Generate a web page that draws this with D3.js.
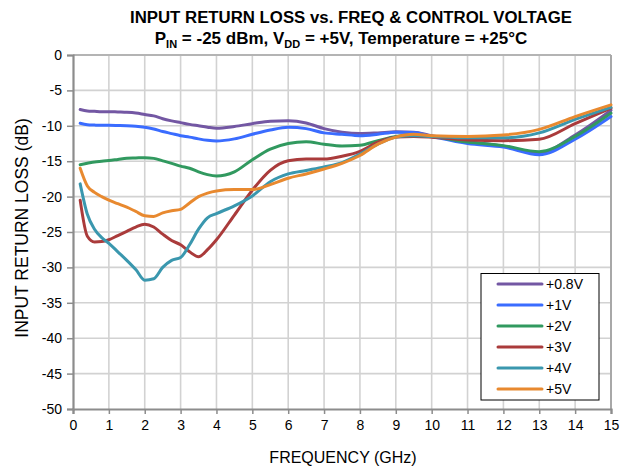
<!DOCTYPE html>
<html>
<head>
<meta charset="utf-8">
<script src="https://cdn.jsdelivr.net/npm/d3@7"></script>
<style>
  html, body { margin: 0; padding: 0; background: #fff; }
  svg { display: block; font-family: "Liberation Sans", Arial, sans-serif; }
</style>
</head>
<body>
<svg id="chart" width="621" height="470"></svg>
<script>
// Frequency points (GHz)
const freq = [0.2, 0.4, 0.6, 0.8, 1, 1.25, 1.5, 1.75, 2, 2.25, 2.5, 2.75, 3, 3.25, 3.5, 3.75, 4,
              4.5, 5, 5.5, 6, 6.5, 7, 7.5, 8, 8.5, 9, 9.5, 10, 11, 12, 13, 14, 15];

// Input return loss (dB) per control voltage
const rl08 = [-7.7, -7.9, -7.95, -8.0, -8.0, -8.05, -8.1, -8.2, -8.4, -8.6, -9.0, -9.3, -9.55, -9.8, -10.0, -10.2, -10.35,
              -10.1, -9.7, -9.35, -9.3, -9.6, -10.4, -10.9, -11.1, -11.0, -10.85, -10.9, -11.4, -12.2, -12.9, -13.8, -11.3, -7.8];
const rl1  = [-9.65, -9.85, -9.9, -9.93, -9.93, -9.95, -9.98, -10.05, -10.2, -10.45, -10.8, -11.1, -11.4, -11.6, -11.85, -12.05, -12.15,
              -11.85, -11.2, -10.6, -10.2, -10.4, -11.0, -11.2, -11.4, -11.2, -10.9, -10.95, -11.5, -12.5, -13.0, -14.1, -11.9, -8.7];
const rl2  = [-15.5, -15.3, -15.1, -15.0, -14.9, -14.75, -14.6, -14.55, -14.5, -14.6, -14.95, -15.3, -15.7, -16.0, -16.5, -16.9, -17.1,
              -16.5, -14.8, -13.3, -12.5, -12.25, -12.6, -12.85, -12.75, -12.1, -11.5, -11.3, -11.5, -12.3, -12.8, -13.65, -11.5, -8.2];
const rl3  = [-20.5, -25.6, -26.4, -26.35, -26.1, -25.5, -24.9, -24.3, -23.9, -24.3, -25.3, -26.2, -26.8, -27.8, -28.5, -27.5, -26.1,
              -22.6, -19.1, -16.3, -14.95, -14.7, -14.7, -14.3, -13.6, -12.3, -11.6, -11.5, -11.6, -12.0, -12.1, -11.9, -9.7, -7.5];
const rl4  = [-18.2, -22.5, -24.6, -25.8, -26.6, -27.8, -29.0, -30.3, -31.8, -31.6, -30.0, -29.0, -28.6, -26.8, -24.6, -23.0, -22.4,
              -21.3, -19.9, -17.9, -16.8, -16.3, -15.8, -15.2, -14.0, -12.6, -11.6, -11.4, -11.5, -11.7, -11.7, -11.0, -9.1, -7.4];
const rl5  = [-16.0, -18.5, -19.4, -20.0, -20.5, -21.0, -21.5, -22.1, -22.7, -22.8, -22.3, -22.0, -21.8, -20.9, -20.0, -19.5, -19.2,
              -19.0, -19.0, -18.3, -17.4, -16.8, -16.1, -15.3, -14.2, -12.6, -11.6, -11.2, -11.4, -11.5, -11.3, -10.5, -8.7, -7.05];

const seriesNames = ["+0.8V", "+1V", "+2V", "+3V", "+4V", "+5V"];
const seriesValues = [rl08, rl1, rl2, rl3, rl4, rl5];
const seriesColors = ["#7357a3", "#3a6cff", "#31995f", "#aa3b3b", "#3a97ae", "#e8892f"];

const xTicks = d3.range(0, 16, 1);
const yTicks = d3.range(-50, 1, 5);

const svg = d3.select("#chart");
const plotL = 73, plotR = 611, plotT = 55, plotB = 409;

const x = d3.scaleLinear().domain([0, 15]).range([plotL, plotR]);
const y = d3.scaleLinear().domain([-50, 0]).range([plotB, plotT]);

// Grid
const grid = svg.append("g");
grid.selectAll("line.v").data(xTicks.slice(1, -1)).join("line")
  .attr("x1", d => x(d)).attr("x2", d => x(d))
  .attr("y1", plotT).attr("y2", plotB)
  .attr("stroke", "#d2d2d2").attr("stroke-width", 1.6);
grid.selectAll("line.h").data(yTicks.slice(1, -1)).join("line")
  .attr("x1", plotL).attr("x2", plotR)
  .attr("y1", d => y(d)).attr("y2", d => y(d))
  .attr("stroke", "#d2d2d2").attr("stroke-width", 1.6);

// Top and right border
svg.append("line").attr("x1", plotL).attr("x2", plotR).attr("y1", plotT).attr("y2", plotT)
  .attr("stroke", "#b4b4b4").attr("stroke-width", 2);
svg.append("line").attr("x1", plotR).attr("x2", plotR).attr("y1", plotT).attr("y2", plotB)
  .attr("stroke", "#a8a8a8").attr("stroke-width", 2);

// Axes (plain hyphen for negative numbers)
const fmt = d => String(d);
const xAxis = d3.axisBottom(x).tickValues(xTicks).tickSize(5).tickPadding(6).tickFormat(fmt);
const yAxis = d3.axisLeft(y).tickValues(yTicks).tickSize(6).tickPadding(5).tickFormat(fmt);

const gx = svg.append("g").attr("transform", `translate(0,${plotB})`).call(xAxis);
const gy = svg.append("g").attr("transform", `translate(${plotL},0)`).call(yAxis);
[gx, gy].forEach(g => {
  g.select(".domain").attr("stroke", "#8c8c8c").attr("stroke-width", 2.2);
  g.selectAll(".tick line").attr("stroke", "#8c8c8c").attr("stroke-width", 1.5);
  g.selectAll(".tick text").attr("fill", "#000").style("font-size", "14px")
    .style("font-family", "'Liberation Sans', Arial, sans-serif");
});

// Curves
const line = d3.line()
  .x((d, i) => x(freq[i]))
  .y(d => y(d))
  .curve(d3.curveMonotoneX);

svg.append("g").selectAll("path").data(seriesValues).join("path")
  .attr("d", d => line(d))
  .attr("fill", "none")
  .attr("stroke", (d, i) => seriesColors[i])
  .attr("stroke-width", 3)
  .attr("stroke-linejoin", "round")
  .attr("stroke-linecap", "round");

// Titles
const title = svg.append("g").attr("font-weight", "bold").attr("text-anchor", "middle")
  .style("font-size", "16.8px");
title.append("text").attr("x", 351).attr("y", 23).text("INPUT RETURN LOSS vs. FREQ & CONTROL VOLTAGE");
const t2 = title.append("text").attr("x", 341).attr("y", 44).style("font-size", "17px");
t2.append("tspan").text("P");
t2.append("tspan").attr("dy", 4).style("font-size", "11px").text("IN");
t2.append("tspan").attr("dy", -4).text(" = -25 dBm, V");
t2.append("tspan").attr("dy", 4).style("font-size", "11px").text("DD");
t2.append("tspan").attr("dy", -4).text(" = +5V, Temperature = +25°C");

svg.append("text").attr("x", 343).attr("y", 463).attr("text-anchor", "middle")
  .style("font-size", "16px").text("FREQUENCY (GHz)");
svg.append("text").attr("transform", `translate(28,228) rotate(-90)`)
  .attr("text-anchor", "middle").style("font-size", "17.5px").text("INPUT RETURN LOSS (dB)");

// Legend
const lg = svg.append("g");
lg.append("rect").attr("x", 481).attr("y", 273.5).attr("width", 118).attr("height", 126.5)
  .attr("fill", "#fff").attr("stroke", "#000").attr("stroke-width", 1);
const rows = lg.selectAll("g.row").data(seriesNames).join("g")
  .attr("transform", (d, i) => `translate(0,${284 + i * 21})`);
rows.append("line").attr("x1", 498).attr("x2", 542).attr("y1", 0).attr("y2", 0)
  .attr("stroke", (d, i) => seriesColors[i]).attr("stroke-width", 3).attr("stroke-linecap", "round");
rows.append("text").attr("x", 546).attr("y", 5).style("font-size", "14px").text(d => d);
</script>
</body>
</html>
